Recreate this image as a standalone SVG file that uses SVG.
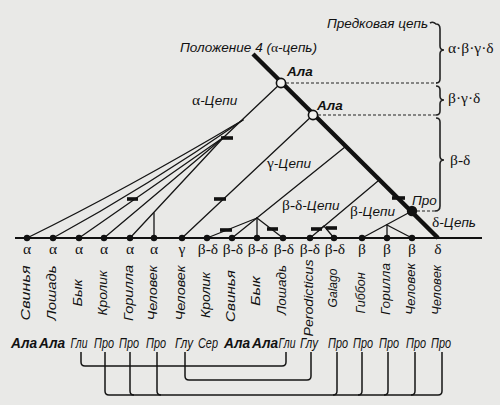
<svg xmlns="http://www.w3.org/2000/svg" width="500" height="405" viewBox="0 0 500 405">
<defs>
<style>
.bg{fill:#e9e9e7}
.thin{stroke:#151515;stroke-width:1.3;fill:none;stroke-linecap:round}
.thick{stroke:#111;stroke-width:4.4;fill:none}
.base{stroke:#111;stroke-width:2;fill:none}
.bar{stroke:#111;stroke-width:3.6;stroke-linecap:butt}
.dash{stroke:#222;stroke-width:1.2;stroke-dasharray:3 2;fill:none}
.brace{stroke:#222;stroke-width:1.6;fill:none}
.dot{fill:#111}
.ring{fill:#f2f2f0;stroke:#111;stroke-width:1.6}
.lab{font-family:"Liberation Sans",Arial,sans-serif;font-style:italic;font-size:13.5px;fill:#111}
.gr{font-family:"Liberation Serif","Times New Roman",serif;font-style:normal;font-size:15.5px;fill:#111}
.grs{font-family:"Liberation Serif","Times New Roman",serif;font-style:normal}
.sp{font-family:"Liberation Sans",Arial,sans-serif;font-style:italic;font-size:13.5px;fill:#111}
.aa{font-family:"Liberation Sans",Arial,sans-serif;font-style:italic;font-size:14px;fill:#111;text-anchor:middle}
.b{font-weight:bold}
.conn{stroke:#151515;stroke-width:1.5;fill:none}
</style>
</defs>
<rect class="bg" x="0" y="0" width="500" height="405"/>

<g id="connectors">
  <path class="thin" d="M281,83 L224,137"/>
  <path class="thin" d="M243,120 Q125,190 27,238"/>
  <path class="thin" d="M243,120 Q148,186 53,238"/>
  <path class="thin" d="M224,137 L79,238"/>
  <path class="thin" d="M224,137 L104,238"/>
  <path class="thin" d="M224,137 L130,238"/>
  <path class="thin" d="M154,238 L154,213"/>
  <path class="thin" d="M313,115 L182,238"/>
  <path class="thin" d="M345,147 L232,238"/>
  <path class="thin" d="M257,218 L207,238"/>
  <path class="thin" d="M257,218 L257,238"/>
  <path class="thin" d="M257,218 L283,238"/>
  <path class="thin" d="M378,181 L310,238"/>
  <path class="thin" d="M318,231 L324,226 L334,238"/>
  <path class="thin" d="M412,211 L362,238"/>
  <path class="thin" d="M387,225 L387,238"/>
  <path class="thin" d="M387,225 L412,238"/>
  <path class="thick" d="M253,54 L438,238"/>
  <path class="base" d="M15,238 L482,238"/>
  <path class="bar" d="M221,138 L233,138"/>
  <path class="bar" d="M127,199 L138,199"/>
  <path class="bar" d="M214,199 L226,199"/>
  <path class="bar" d="M220,230 L232,230"/>
  <path class="bar" d="M267,229 L278,229"/>
  <path class="bar" d="M311,229 L322,229"/>
  <path class="bar" d="M326,228 L337,228"/>
  <path class="bar" d="M392,198 L405,198"/>
  <path class="dash" d="M286,83 L437,83"/>
  <path class="dash" d="M318,115 L437,115"/>
  <path class="dash" d="M417,211 L436,211"/>
  <path class="brace" d="M430,23 Q433,21 436,24 Q440,24 440,29 L440,46 Q440,50 444,50 Q440,50 440,54 L440,79 Q440,83 436,83"/>
  <path class="brace" d="M436,86 Q440,86 440,90 L440,96 Q440,100 444,100 Q440,100 440,104 L440,111 Q440,115 436,115"/>
  <path class="brace" d="M436,118 Q440,118 440,122 L440,156 Q440,160 444,160 Q440,160 440,164 L440,206 Q440,211 435,211"/>
  <path class="conn" d="M81,352 L81,362 Q81,366 85,366 L282,366 Q286,366 286,362 L286,352"/>
  <path class="conn" d="M185,352 L185,376 Q185,380 189,380 L307,380 Q311,380 311,376 L311,352"/>
  <path class="conn" d="M109,395 L438,395"/>
  <path class="conn" d="M105,352 L105,391 Q105,395 109,395"/>
  <path class="conn" d="M130,352 L130,391 Q130,395 134,395"/>
  <path class="conn" d="M157,352 L157,391 Q157,395 161,395"/>
  <path class="conn" d="M337,352 L337,391 Q337,395 333,395"/>
  <path class="conn" d="M362,352 L362,391 Q362,395 358,395"/>
  <path class="conn" d="M388,352 L388,391 Q388,395 384,395"/>
  <path class="conn" d="M415,352 L415,391 Q415,395 411,395"/>
  <path class="conn" d="M442,352 L442,391 Q442,395 438,395"/>
</g>

<g id="nodes">
  <circle class="ring" cx="281" cy="83" r="4.6"/>
  <circle class="ring" cx="313" cy="115" r="4.6"/>
  <circle class="dot" cx="412" cy="211" r="5.2"/>
  <g id="tips" class="dot">
    <circle cx="27" cy="238" r="3.2"/>
    <circle cx="53" cy="238" r="3.2"/>
    <circle cx="79" cy="238" r="3.2"/>
    <circle cx="104" cy="238" r="3.2"/>
    <circle cx="130" cy="238" r="3.2"/>
    <circle cx="154" cy="238" r="3.2"/>
    <circle cx="182" cy="238" r="3.2"/>
    <circle cx="207" cy="238" r="3.2"/>
    <circle cx="232" cy="238" r="3.2"/>
    <circle cx="257" cy="238" r="3.2"/>
    <circle cx="283" cy="238" r="3.2"/>
    <circle cx="310" cy="238" r="3.2"/>
    <circle cx="334" cy="238" r="3.2"/>
    <circle cx="362" cy="238" r="3.2"/>
    <circle cx="387" cy="238" r="3.2"/>
    <circle cx="412" cy="238" r="3.2"/>
  </g>
</g>

<g id="labels">
  <text class="lab" x="180" y="52" textLength="137" lengthAdjust="spacingAndGlyphs">Положение 4 (<tspan class="grs">α</tspan>-цепь)</text>
  <text class="lab" x="327" y="28" textLength="101" lengthAdjust="spacingAndGlyphs">Предковая цепь</text>
  <text class="lab b" x="287" y="76">Ала</text>
  <text class="lab b" x="317" y="110">Ала</text>
  <text class="gr" x="448" y="53">α·β·γ·δ</text>
  <text class="gr" x="448" y="103">β·γ·δ</text>
  <text class="gr" x="450" y="165">β-δ</text>
  <text class="lab" x="192" y="105"><tspan class="grs" font-size="15.5">α</tspan>-Цепи</text>
  <text class="lab" x="267" y="168"><tspan class="grs" font-size="15.5">γ</tspan>-Цепи</text>
  <text class="lab" x="282" y="210"><tspan class="grs" font-size="15.5">β-δ</tspan>-Цепи</text>
  <text class="lab" x="350" y="216"><tspan class="grs" font-size="15.5">β</tspan>-Цепи</text>
  <text class="lab" x="412" y="205">Про</text>
  <text class="lab" x="432" y="227"><tspan class="grs" font-size="15.5">δ</tspan>-Цепь</text>
</g>

<g id="chain-types" class="gr" text-anchor="middle">
  <text x="27" y="254">α</text>
  <text x="53" y="254">α</text>
  <text x="79" y="254">α</text>
  <text x="104" y="254">α</text>
  <text x="130" y="254">α</text>
  <text x="154" y="254">α</text>
  <text x="182" y="254">γ</text>
  <text x="208" y="254">β-δ</text>
  <text x="233" y="254">β-δ</text>
  <text x="258" y="254">β-δ</text>
  <text x="284" y="254">β-δ</text>
  <text x="310" y="254">β-δ</text>
  <text x="335" y="254">β-δ</text>
  <text x="362" y="254">β</text>
  <text x="387" y="254">β</text>
  <text x="412" y="254">β</text>
  <text x="438" y="254">δ</text>
</g>

<g id="species" class="sp" text-anchor="middle">
  <text transform="translate(30,293) rotate(-90)" textLength="55" lengthAdjust="spacingAndGlyphs">Свинья</text>
  <text transform="translate(56,293) rotate(-90)" textLength="55" lengthAdjust="spacingAndGlyphs">Лошадь</text>
  <text transform="translate(82,293) rotate(-90)" textLength="27" lengthAdjust="spacingAndGlyphs">Бык</text>
  <text transform="translate(107,293) rotate(-90)" textLength="45" lengthAdjust="spacingAndGlyphs">Кролик</text>
  <text transform="translate(133,293) rotate(-90)" textLength="56" lengthAdjust="spacingAndGlyphs">Горилла</text>
  <text transform="translate(157,293) rotate(-90)" textLength="55" lengthAdjust="spacingAndGlyphs">Человек</text>
  <text transform="translate(185,293) rotate(-90)" textLength="55" lengthAdjust="spacingAndGlyphs">Человек</text>
  <text transform="translate(210,295) rotate(-90)" textLength="46" lengthAdjust="spacingAndGlyphs">Кролик</text>
  <text transform="translate(235,296) rotate(-90)" textLength="52" lengthAdjust="spacingAndGlyphs">Свинья</text>
  <text transform="translate(260,291) rotate(-90)" textLength="30" lengthAdjust="spacingAndGlyphs">Бык</text>
  <text transform="translate(286,290) rotate(-90)" textLength="50" lengthAdjust="spacingAndGlyphs">Лошадь</text>
  <text transform="translate(313,298) rotate(-90)" textLength="77" lengthAdjust="spacingAndGlyphs">Perodicticus</text>
  <text transform="translate(337,288) rotate(-90)" textLength="39" lengthAdjust="spacingAndGlyphs">Galago</text>
  <text transform="translate(365,293) rotate(-90)" textLength="41" lengthAdjust="spacingAndGlyphs">Гиббон</text>
  <text transform="translate(390,289) rotate(-90)" textLength="52" lengthAdjust="spacingAndGlyphs">Горилла</text>
  <text transform="translate(415,289) rotate(-90)" textLength="52" lengthAdjust="spacingAndGlyphs">Человек</text>
  <text transform="translate(441,290) rotate(-90)" textLength="50" lengthAdjust="spacingAndGlyphs">Человек</text>
</g>

<g id="amino-acids">
  <text class="aa b" x="24" y="348" textLength="26" lengthAdjust="spacingAndGlyphs">Ала</text>
  <text class="aa b" x="52" y="348" textLength="26" lengthAdjust="spacingAndGlyphs">Ала</text>
  <text class="aa" x="79" y="348" textLength="17" lengthAdjust="spacingAndGlyphs">Гли</text>
  <text class="aa" x="104" y="348" textLength="20" lengthAdjust="spacingAndGlyphs">Про</text>
  <text class="aa" x="129" y="348" textLength="20" lengthAdjust="spacingAndGlyphs">Про</text>
  <text class="aa" x="156" y="348" textLength="20" lengthAdjust="spacingAndGlyphs">Про</text>
  <text class="aa" x="184" y="348" textLength="18" lengthAdjust="spacingAndGlyphs">Глу</text>
  <text class="aa" x="208" y="348" textLength="20" lengthAdjust="spacingAndGlyphs">Сер</text>
  <text class="aa b" x="237" y="348" textLength="26" lengthAdjust="spacingAndGlyphs">Ала</text>
  <text class="aa b" x="265" y="348" textLength="26" lengthAdjust="spacingAndGlyphs">Ала</text>
  <text class="aa" x="287" y="348" textLength="17" lengthAdjust="spacingAndGlyphs">Гли</text>
  <text class="aa" x="309" y="348" textLength="18" lengthAdjust="spacingAndGlyphs">Глу</text>
  <text class="aa" x="338" y="348" textLength="20" lengthAdjust="spacingAndGlyphs">Про</text>
  <text class="aa" x="363" y="348" textLength="20" lengthAdjust="spacingAndGlyphs">Про</text>
  <text class="aa" x="389" y="348" textLength="20" lengthAdjust="spacingAndGlyphs">Про</text>
  <text class="aa" x="416" y="348" textLength="20" lengthAdjust="spacingAndGlyphs">Про</text>
  <text class="aa" x="441" y="348" textLength="20" lengthAdjust="spacingAndGlyphs">Про</text>
</g>
</svg>
